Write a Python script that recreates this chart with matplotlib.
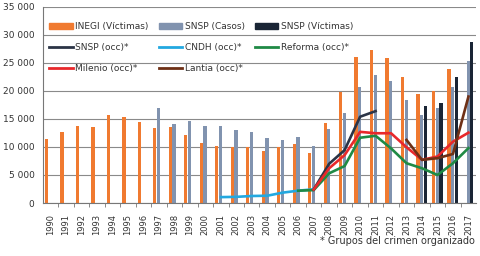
import numpy as np
import matplotlib
matplotlib.use("Agg")
import matplotlib.pyplot as plt
import matplotlib.patches as mpatches
from matplotlib.lines import Line2D
from matplotlib.ticker import FuncFormatter

years = list(range(1990, 2018))

# Bars (None = no data)
inegi = [11450, 12600, 13800, 13500, 15650, 15400, 14400, 13400, 13500, 12150,
         10650, 10250, 10000, 10000, 9350, 10000, 10450, 8850, 14200, 19800,
         26000, 27300, 25850, 22450, 19450, 20050, 23950, None]
snsp_casos = [None] * 7 + [16900, 14150, 14600, 13800, 13800, 13100, 12600, 11600,
                           11200, 11800, 10250, 13150, 16150, 20650, 22800, 21800,
                           18350, 15650, 17000, 20750, 25350]
snsp_vict = [None] * 24 + [17300, 17800, 22550, 28750]

# Lines
snsp_occ_years = [2007, 2008, 2009, 2010, 2011]
snsp_occ = [2400, 7000, 9450, 15400, 16400]
cndh_years = [2001, 2002, 2003, 2004, 2005, 2006, 2007]
cndh = [1050, 1100, 1250, 1300, 1850, 2200, 2450]
reforma_years = [2006, 2007, 2008, 2009, 2010, 2011, 2012, 2013, 2014, 2015, 2016, 2017]
reforma = [2200, 2300, 5300, 6600, 11650, 12000, 9750, 7100, 6200, 5000, 7100, 9800]
milenio_years = [2007, 2008, 2009, 2010, 2011, 2012, 2013, 2014, 2015, 2016, 2017]
milenio = [2400, 6200, 8550, 12700, 12450, 12450, 9950, 7700, 8300, 10950, 12550]
lantia_years = [2013, 2014, 2015, 2016, 2017]
lantia = [11250, 7700, 8000, 8750, 19000]

c_inegi = "#F07A30"
c_casos = "#8193AF"
c_vict = "#1A2535"
c_snsp_occ = "#2B3446"
c_cndh = "#22A8E0"
c_reforma = "#1F8A45"
c_milenio = "#E8282B"
c_lantia = "#6E3016"

fig = plt.figure(figsize=(4.81, 2.56), dpi=100)
ax = fig.add_axes([0.089, 0.207, 0.901, 0.766])

x = np.arange(len(years))
w = 0.21


def bars(vals, off, color):
    xs = [xi + off for xi, v in zip(x, vals) if v is not None]
    vs = [v for v in vals if v is not None]
    ax.bar(xs, vs, width=w, color=color, zorder=2)


bars(inegi, -0.26, c_inegi)
bars(snsp_casos, -0.02, c_casos)
bars(snsp_vict, 0.22, c_vict)


def line(yrs, vals, color):
    xs = [years.index(y) for y in yrs]
    ax.plot(xs, vals, color=color, lw=1.9, zorder=3, solid_joinstyle="round")


line(cndh_years, cndh, c_cndh)
line(reforma_years, reforma, c_reforma)
line(snsp_occ_years, snsp_occ, c_snsp_occ)
line(milenio_years, milenio, c_milenio)
line(lantia_years, lantia, c_lantia)

ax.set_xlim(-0.5, len(years) - 0.5)
ax.set_ylim(0, 35000)
ax.set_yticks(range(0, 35001, 5000))
ax.yaxis.set_major_formatter(
    FuncFormatter(lambda v, p: f"{int(v):,}".replace(",", " ")))
ax.grid(axis="y", color="#8a8a8a", lw=0.8, zorder=0)
ax.set_axisbelow(True)

ax.set_xticks(x)
ax.set_xticklabels(years, rotation=90, fontsize=6, color="#333333")
ax.set_xticks(x[:-1] + 0.5, minor=True)
ax.tick_params(axis="x", which="major", length=0, pad=8)
ax.tick_params(axis="x", which="minor", length=3, color="#777777")
ax.tick_params(axis="y", length=0, labelsize=6.5, labelcolor="#333333", pad=6)

for s in ["top", "right"]:
    ax.spines[s].set_visible(False)
ax.spines["left"].set_color("#777777")
ax.spines["bottom"].set_color("#777777")

handles = [
    mpatches.Patch(color=c_inegi, label="INEGI (Víctimas)"),
    Line2D([], [], color=c_snsp_occ, lw=2, label="SNSP (occ)*"),
    Line2D([], [], color=c_milenio, lw=2, label="Milenio (occ)*"),
    mpatches.Patch(color=c_casos, label="SNSP (Casos)"),
    Line2D([], [], color=c_cndh, lw=2, label="CNDH (occ)*"),
    Line2D([], [], color=c_lantia, lw=2, label="Lantia (occ)*"),
    mpatches.Patch(color=c_vict, label="SNSP (Víctimas)"),
    Line2D([], [], color=c_reforma, lw=2, label="Reforma (occ)*"),
]
ax.legend(handles=handles, ncol=3, loc="upper left", bbox_to_anchor=(0.0, 0.955),
          frameon=False, fontsize=6.5, handlelength=2.6, handleheight=0.6,
          handletextpad=0.3, columnspacing=1.1, labelspacing=1.35,
          borderaxespad=0.3, labelcolor="#333333")

fig.text(0.988, 0.04, "* Grupos del crimen organizado", ha="right", va="bottom",
         fontsize=7, color="#333333")

fig.savefig("out.png", dpi=100)
